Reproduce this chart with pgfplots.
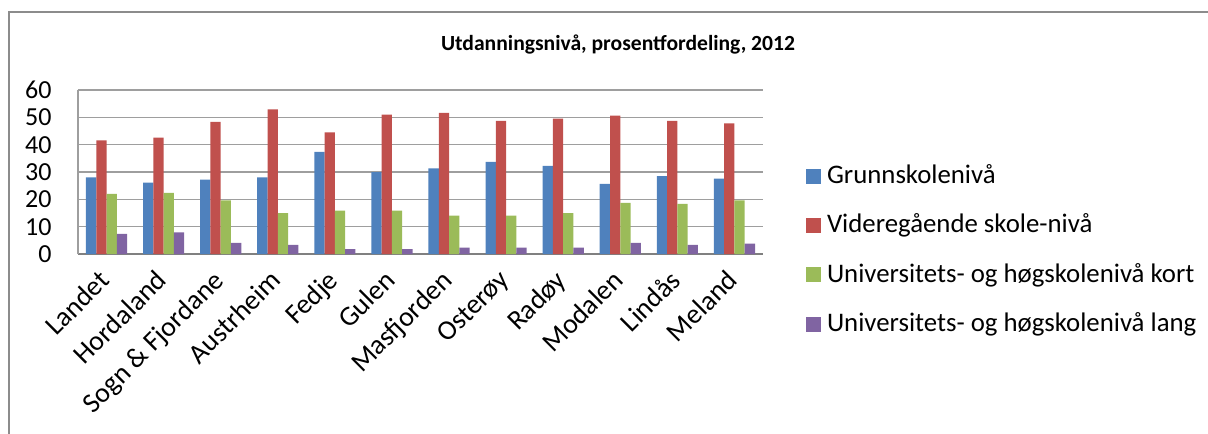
\documentclass[border=0pt]{standalone}
\usepackage{fontspec}
\setmainfont{Carlito}
\usepackage{pgfplots}
\pgfplotsset{compat=1.18}
\definecolor{cA}{HTML}{4F81BD}
\definecolor{cB}{HTML}{C0504D}
\definecolor{cC}{HTML}{9BBB59}
\definecolor{cD}{HTML}{8064A2}
\begin{document}
\begin{tikzpicture}
\useasboundingbox (0,0) rectangle (604pt,-216.5pt);
\draw[draw=black!45, line width=1.2pt] (4.6pt,-6pt) rectangle (612pt,-225pt);
\node[font=\bfseries\fontsize{10.8}{12}\selectfont] at (309pt,-22.5pt) {Utdanningsnivå, prosentfordeling, 2012};
\begin{axis}[
  at={(39pt,-127pt)}, anchor=south west,
  width=342.5pt, height=82pt, scale only axis,
  xmin=-0.5, xmax=11.5, ymin=0, ymax=60,
  ybar=0pt, bar width=0.18,
  xtick={0,...,11},
  xticklabels={Landet,Hordaland,Sogn \& Fjordane,Austrheim,Fedje,Gulen,Masfjorden,Osterøy,Radøy,Modalen,Lindås,Meland},
  ytick={0,10,...,60},
  major tick length=0pt,
  axis lines*=left,
  ymajorgrids, grid style={black!38, line width=0.7pt},
  y axis line style={black!38, line width=0.7pt},
  x axis line style={black!50, line width=1.3pt},
  tick label style={font=\fontsize{13}{15}\selectfont},
  /pgf/number format/assume math mode=true,
  yticklabel style={inner sep=0pt},
  yticklabel shift=13pt,
  xticklabel style={xshift=-4.5pt, rotate=45, anchor=north east, inner sep=0pt, font=\fontsize{13.9}{16}\selectfont},
  xticklabel shift=7pt,
  legend style={at={(1.0628,0.02)}, anchor=west, draw=none, fill=none,
    inner sep=0pt, outer sep=0pt,
    font=\fontsize{13.4}{15}\selectfont,
    nodes={text height=9.5pt, text depth=2.8pt, inner sep=0pt},
    row sep=12.3pt, column sep=3pt},
  legend cell align=left,
  legend image code/.code={\fill[#1] (0pt,-3.5pt) rectangle (7.5pt,4pt);},
]
\addplot[fill=cA, draw=none] coordinates {(0,28.0) (1,26.1) (2,27.2) (3,28.0) (4,37.4) (5,30.0) (6,31.3) (7,33.7) (8,32.2) (9,25.7) (10,28.5) (11,27.6)};
\addplot[fill=cB, draw=none] coordinates {(0,41.6) (1,42.6) (2,48.3) (3,52.9) (4,44.5) (5,51.0) (6,51.6) (7,48.7) (8,49.5) (9,50.6) (10,48.7) (11,47.8)};
\addplot[fill=cC, draw=none] coordinates {(0,22.0) (1,22.4) (2,19.6) (3,15.0) (4,15.9) (5,15.9) (6,14.0) (7,14.0) (8,15.0) (9,18.7) (10,18.3) (11,19.6)};
\addplot[fill=cD, draw=none] coordinates {(0,7.4) (1,7.9) (2,4.1) (3,3.3) (4,1.8) (5,1.8) (6,2.3) (7,2.3) (8,2.3) (9,4.1) (10,3.3) (11,3.8)};
\legend{Grunnskolenivå,Videregående skole-nivå,Universitets- og høgskolenivå kort,Universitets- og høgskolenivå lang}
\end{axis}
\end{tikzpicture}
\end{document}
